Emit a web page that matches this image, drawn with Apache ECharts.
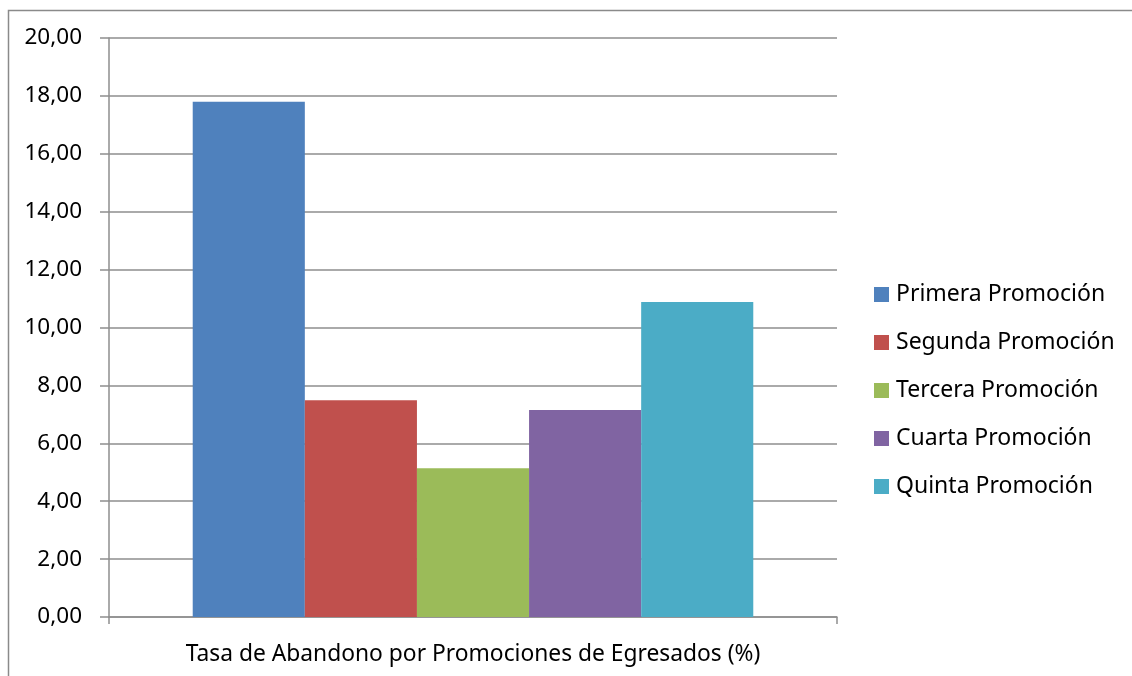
<!DOCTYPE html>
<html>
<head>
<meta charset="utf-8">
<script src="https://cdn.jsdelivr.net/npm/echarts@6/dist/echarts.min.js"></script>
<style>
html,body{margin:0;padding:0;background:#fff;}
#c{width:1132px;height:676px;}
</style>
</head>
<body>
<div id="c"></div>
<script>
const categories = ['Tasa de Abandono por Promociones de Egresados (%)'];
const seriesNames = ['Primera Promoción','Segunda Promoción','Tercera Promoción','Cuarta Promoción','Quinta Promoción'];
const seriesValues = [17.80, 7.49, 5.14, 7.15, 10.88];
const seriesColors = ['#4F81BD','#C0504D','#9BBB59','#8064A2','#4BACC6'];
const yTicks = [0,2,4,6,8,10,12,14,16,18,20];

const FONT = 'Noto Sans';
const chart = echarts.init(document.getElementById('c'), null, {renderer:'canvas'});
chart.setOption({
  animation:false,
  backgroundColor:'#fff',
  textStyle:{fontFamily:FONT},
  graphic:[{
    type:'rect', left:6, top:8, shape:{width:1200, height:700},
    style:{fill:'none', stroke:'#8a8a8a', lineWidth:1.5}, silent:true
  }],
  grid:{left:109, right:295, top:38, bottom:59, containLabel:false},
  legend:{
    orient:'vertical', left:874, top:283, padding:0,
    itemWidth:15, itemHeight:15, itemGap:25,
    icon:'rect',
    textStyle:{fontFamily:FONT, fontSize:23, color:'#000', lineHeight:20, padding:[0,0,0,2]},
    data:seriesNames
  },
  xAxis:{
    type:'category', data:categories,
    axisLine:{lineStyle:{color:'#8e8e8e', width:1.5}},
    axisTick:{show:true, length:7, lineStyle:{color:'#8e8e8e', width:1.5}},
    axisLabel:{fontFamily:FONT, fontSize:22.8, color:'#000', margin:26}
  },
  yAxis:{
    type:'value', min:yTicks[0], max:yTicks[yTicks.length-1], interval:2,
    axisLine:{show:true, lineStyle:{color:'#8e8e8e', width:1.5}},
    axisTick:{show:true, length:9, lineStyle:{color:'#8e8e8e', width:1.5}},
    splitLine:{show:true, lineStyle:{color:'#8e8e8e', width:1.5}},
    axisLabel:{fontFamily:FONT, fontSize:22.5, color:'#000', margin:27,
      formatter:v=>v.toFixed(2).replace('.',',')}
  },
  series: seriesNames.map((n,i)=>({
    name:n, type:'bar', data:[seriesValues[i]],
    itemStyle:{color:seriesColors[i]},
    barGap:'0%', barCategoryGap:'23%'
  }))
});
</script>
</body>
</html>
